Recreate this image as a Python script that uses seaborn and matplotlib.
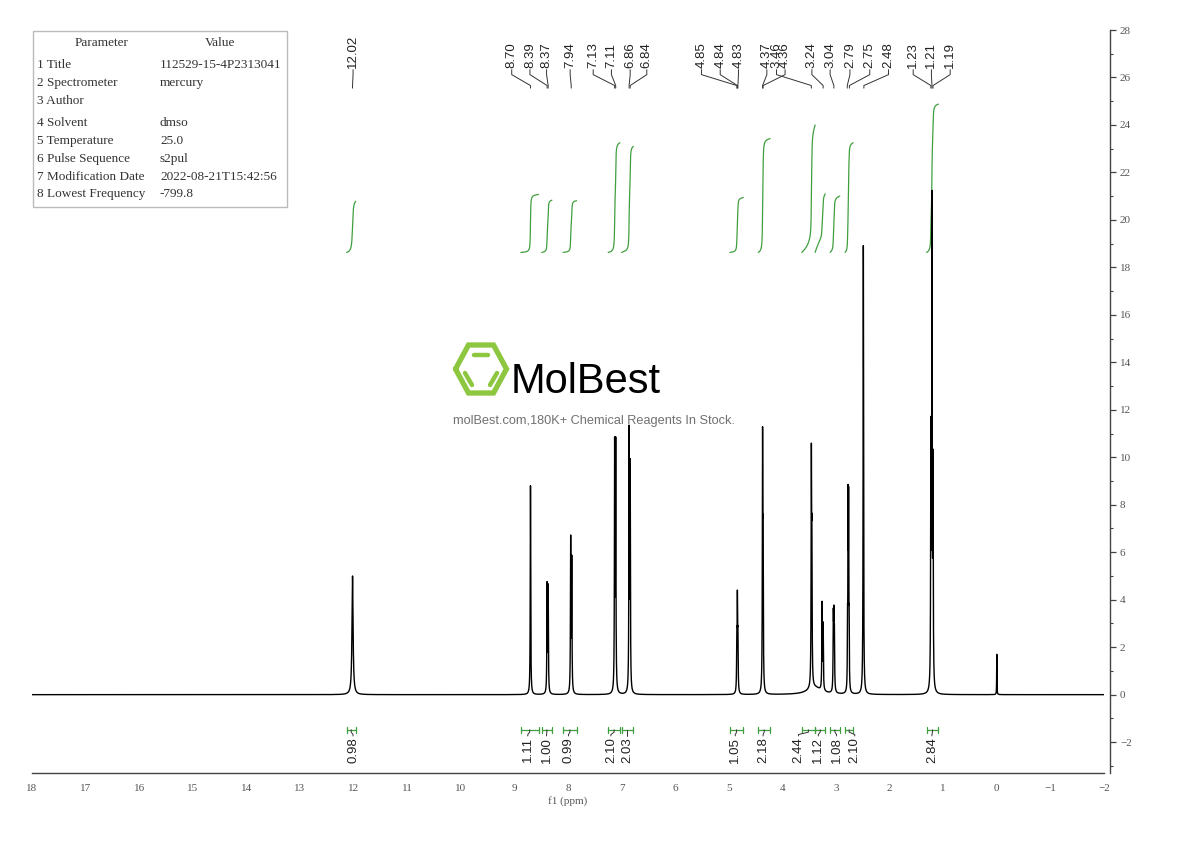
import numpy as np
import pandas as pd
import matplotlib
matplotlib.use("Agg")
import matplotlib.pyplot as plt
import seaborn as sns
from matplotlib.patches import Rectangle
from matplotlib.ticker import MultipleLocator

# === Peaks (ppm, height, half width) ===
peak_ppm = [12.02, 8.70, 8.39, 8.37, 7.95, 7.93, 7.13, 7.11, 6.86, 6.84,
            4.85, 4.84, 4.83, 4.37, 4.36, 3.46, 3.45, 3.26, 3.24,
            3.05, 3.04, 3.03, 2.785, 2.775, 2.765, 2.755, 2.49,
            1.23, 1.21, 1.19, 0.00, 3.40]
peak_height = [5.0, 8.8, 4.5, 4.4, 6.4, 5.5, 10.25, 10.25, 10.8, 9.3,
               2.0, 3.6, 2.0, 10.2, 5.4, 9.25, 5.4, 3.6, 2.7,
               2.9, 2.7, 2.2, 2.4, 7.4, 7.3, 2.4, 18.9,
               10.4, 20.1, 9.0, 1.7, 0.3]
peak_hw = [0.012, 0.005, 0.005, 0.005, 0.005, 0.005, 0.005, 0.005, 0.005, 0.005,
           0.005, 0.005, 0.005, 0.005, 0.005, 0.005, 0.005, 0.005, 0.005,
           0.005, 0.005, 0.005, 0.004, 0.004, 0.004, 0.004, 0.005,
           0.005, 0.005, 0.005, 0.003, 0.15]

# === Peak pick labels ===
shift_labels = ["12.02", "8.70", "8.39", "8.37", "7.94", "7.13", "7.11", "6.86", "6.84",
                "4.85", "4.84", "4.83", "4.37", "3.46", "4.36", "3.24", "3.04",
                "2.79", "2.75", "2.48", "1.23", "1.21", "1.19"]
# where the rotated labels sit (layout only)
label_pos = [12.01, 9.05, 8.71, 8.40, 7.96, 7.53, 7.19, 6.84, 6.53,
             5.51, 5.16, 4.82, 4.29, 4.11, 3.95, 3.45, 3.11,
             2.74, 2.37, 2.02, 1.56, 1.22, 0.87]

# === Integrals ===
int_hi = [12.13, 8.88, 8.49, 8.09, 7.25, 7.00, 4.98, 4.45, 3.64, 3.39, 3.11, 2.83, 1.31]
int_lo = [11.96, 8.55, 8.30, 7.84, 7.03, 6.78, 4.73, 4.23, 3.39, 3.20, 2.93, 2.68, 1.09]
int_val = [0.98, 1.11, 1.00, 0.99, 2.10, 2.03, 1.05, 2.18, 2.44, 1.12, 1.08, 2.10, 2.84]
int_label_pos = [12.01, 8.75, 8.40, 7.99, 7.20, 6.89, 4.88, 4.36, 3.70, 3.33, 2.99, 2.65, 1.21]

# === Parameter table ===
param_names = ["1 Title", "2 Spectrometer", "3 Author", "4 Solvent", "5 Temperature",
               "6 Pulse Sequence", "7 Modification Date", "8 Lowest Frequency"]
param_values = ["112529-15-4P2313041", "mercury", "", "dmso", "25.0",
                "s2pul", "2022-08-21T15:42:56", "-799.8"]

# === Build spectrum ===
ppm = np.linspace(18, -2, 40001)
intensity = np.zeros_like(ppm)
for c, h, w in zip(peak_ppm, peak_height, peak_hw):
    intensity += h / (1 + ((ppm - c) / w) ** 2)
df = pd.DataFrame({"ppm": ppm, "intensity": intensity})

# integral curves (cumulative area, scaled to the reported value)
int_scale = 2.2
int_base = 18.63
rows = []
for i, (hi, lo, v) in enumerate(zip(int_hi, int_lo, int_val)):
    m = (ppm <= hi) & (ppm >= lo)
    cum = np.cumsum(intensity[m])
    cum = cum / cum[-1] * v * int_scale + int_base
    rows.append(pd.DataFrame({"ppm": ppm[m], "curve": cum, "region": i}))
int_df = pd.concat(rows)

sns.set_style("white")
plt.rcParams["font.family"] = ["Liberation Sans", "DejaVu Sans"]

W, H = 1190, 841
fig = plt.figure(figsize=(11.9, 8.41), dpi=100)
ax = fig.add_axes([32 / W, 1 - 773 / H, (1104 - 32) / W, (773 - 30) / H])
ax.patch.set_alpha(0)

green = "#3f9f3f"
dark = "#333333"

# === Watermark ===
logo = fig.add_axes([450 / W, 1 - 398 / H, 62 / W, 58 / H], zorder=-1)
logo.set_xlim(-31, 31)
logo.set_ylim(-29, 29)
logo.axis("off")
hx = [-25.5, -12.5, 12.5, 25.5, 12.5, -12.5, -25.5]
hy = [0, 24, 24, 0, -24, -24, 0]
logo.plot(hx, hy, color="#8dc63f", lw=3.8, solid_joinstyle="miter")
for sx, sy in [([-7, 7], [14, 14]), ([-16, -9], [-4, -16]), ([16, 9], [-4, -16])]:
    logo.plot(sx, sy, color="#8dc63f", lw=3.2, solid_capstyle="round")
fig.text(586 / W, 1 - 393 / H, "MolBest", fontsize=30, color="black",
         family=["Liberation Sans", "DejaVu Sans"], ha="center", va="baseline", zorder=-1)
fig.text(594 / W, 1 - 421 / H, "molBest.com,180K+ Chemical Reagents In Stock.",
         fontsize=9.2, color="#707070", ha="center", va="center", zorder=-1)

# === Spectrum ===
sns.lineplot(data=df, x="ppm", y="intensity", ax=ax, color="black", linewidth=1.0,
             estimator=None, sort=False, zorder=3)
sns.lineplot(data=int_df, x="ppm", y="curve", units="region", ax=ax, color=green,
             linewidth=0.9, estimator=None, sort=False, zorder=2)

# peak labels with leader lines
for lab, pos in zip(shift_labels, label_pos):
    target = float(lab)
    ax.plot([pos, pos, target, target], [26.33, 26.12, 25.66, 25.55], color=dark, lw=0.7)
    ax.text(pos, 26.38, lab, rotation=90, ha="center", va="bottom", fontsize=9.5, color="#222222")

# integral brackets and values
for hi, lo, v, pos in zip(int_hi, int_lo, int_val, int_label_pos):
    ax.plot([hi, lo], [-1.48, -1.48], color=green, lw=0.9)
    ax.plot([hi, hi], [-1.36, -1.60], color=green, lw=0.9)
    ax.plot([lo, lo], [-1.36, -1.60], color=green, lw=0.9)
    mid = (hi + lo) / 2
    ax.plot([mid, mid, pos, pos], [-1.48, -1.58, -1.68, -1.74], color=dark, lw=0.7)
    ax.text(pos, -1.78, f"{v:.2f}", rotation=90, ha="center", va="top", fontsize=9.5, color="#222222")

# === Axes ===
ax.set_xlim(18, -2)
ax.set_ylim(-3.3, 28)
ax.xaxis.set_major_locator(MultipleLocator(1))
ax.xaxis.set_minor_locator(MultipleLocator(0.5))
ax.yaxis.set_major_locator(MultipleLocator(2))
ax.yaxis.set_minor_locator(MultipleLocator(1))
ax.yaxis.tick_right()
ax.spines["top"].set_visible(False)
ax.spines["left"].set_visible(False)
ax.spines["right"].set_position(("outward", 4))
for s in ["bottom", "right"]:
    ax.spines[s].set_color("#444444")
    ax.spines[s].set_linewidth(1.0)
ax.tick_params(axis="both", which="major", direction="out", length=4, width=0.9,
               colors="#444444", labelsize=8)
ax.tick_params(axis="both", which="minor", direction="out", length=2.5, width=0.8, colors="#444444")
for t in ax.get_yticklabels():
    t.set_family(["Liberation Serif", "DejaVu Serif"])
    t.set_color("#555555")
ax.set_xticks(np.arange(18, -3, -1))
ax.set_xticklabels([str(int(v)).replace("-", "\u2212") for v in np.arange(18, -3, -1)],
                   family=["Liberation Serif", "DejaVu Serif"], color="#555555")
ax.set_xlabel("f1 (ppm)", family=["Liberation Serif", "DejaVu Serif"], fontsize=8,
              color="#555555", labelpad=2)
ax.set_ylabel("")
ax.tick_params(axis="x", pad=4)

# === Parameter table ===
fig.patches.append(Rectangle((33 / W, 1 - 207 / H), 254 / W, 176 / H, transform=fig.transFigure,
                             fill=False, edgecolor="#bbbbbb", lw=1.0))
serif = ["Liberation Serif", "DejaVu Serif"]
fig.text(102 / W, 1 - 43 / H, "Parameter", ha="center", va="center", fontsize=9.5, family=serif, color="#333333")
fig.text(220 / W, 1 - 43 / H, "Value", ha="center", va="center", fontsize=9.5, family=serif, color="#333333")
row_y = [65, 83, 101, 123, 141, 159, 177, 194]
for name, val, yy in zip(param_names, param_values, row_y):
    fig.text(37 / W, 1 - yy / H, name, ha="left", va="center", fontsize=9.5, family=serif, color="#333333")
    fig.text(160 / W, 1 - yy / H, val, ha="left", va="center", fontsize=9.5, family=serif, color="#333333")

fig.savefig("out.png", dpi=100)
